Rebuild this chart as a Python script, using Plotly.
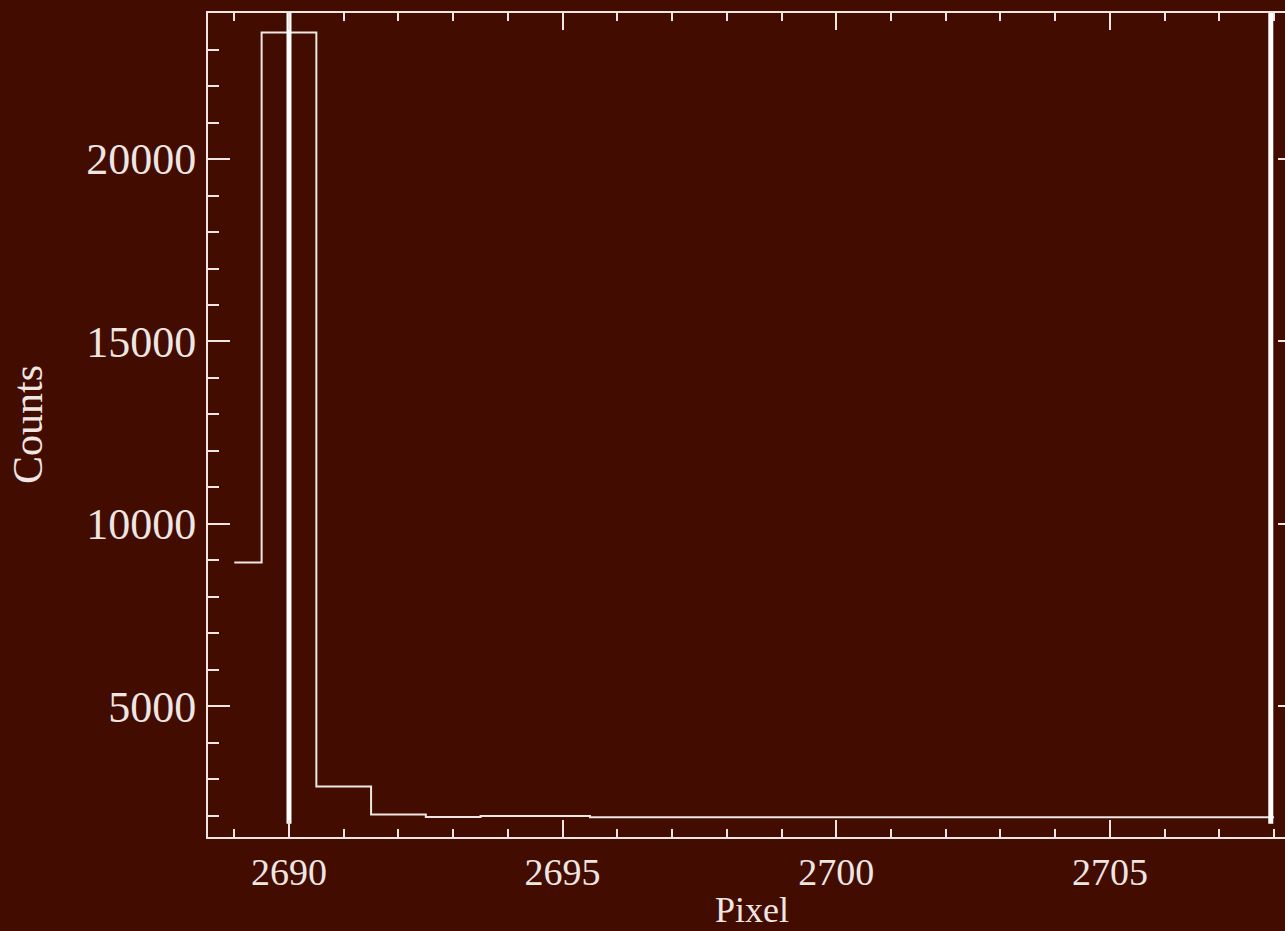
import plotly.graph_objects as go

# Data
pixels = list(range(2689, 2709))
counts = [8940, 23470, 2800, 2030, 1965, 1990, 1990, 1958, 1958, 1956,
          1956, 1955, 1955, 1955, 1955, 1955, 1955, 1955, 1955, 1955]

marker_x = [2690.0, 2707.94]
marker_y = [1780, 24005]

x_range = [2688.52, 2708.2]
y_range = [1414, 24005]
x_ticks = [2690, 2695, 2700, 2705]
y_ticks = [5000, 10000, 15000, 20000]

BG = "#420d00"
FG = "#efe6e4"
FONT = "Liberation Serif"

fig = go.Figure()
fig.add_trace(go.Scatter(x=pixels, y=counts, mode="lines",
                         line=dict(shape="hvh", color=FG, width=2),
                         showlegend=False, hoverinfo="skip"))
for mx in marker_x:
    fig.add_trace(go.Scatter(x=[mx, mx], y=marker_y, mode="lines",
                             line=dict(color="#ffffff", width=5),
                             showlegend=False, hoverinfo="skip"))
# invisible trace to activate the right-side tick axis
fig.add_trace(go.Scatter(x=[x_range[0]], y=[y_range[0]], yaxis="y2",
                         mode="markers", marker=dict(opacity=0),
                         showlegend=False, hoverinfo="skip"))

fig.update_layout(
    width=1285, height=931,
    margin=dict(l=208, r=0, t=13, b=94),
    paper_bgcolor=BG, plot_bgcolor=BG,
    font=dict(family=FONT, color=FG),
    xaxis=dict(
        range=x_range, tickvals=x_ticks, ticktext=[str(v) for v in x_ticks],
        showgrid=False, zeroline=False,
        showline=True, linecolor=FG, linewidth=2, mirror="ticks",
        ticks="inside", ticklen=17, tickwidth=2, tickcolor=FG,
        minor=dict(dtick=1, tick0=2690, ticks="inside", ticklen=8, tickwidth=2,
                   tickcolor=FG, showgrid=False),
        tickfont=dict(family=FONT, size=38, color=FG),
        ticklabelstandoff=0,
    ),
    yaxis=dict(
        range=y_range, tickvals=y_ticks, ticktext=[str(v) for v in y_ticks],
        showgrid=False, zeroline=False,
        showline=True, linecolor=FG, linewidth=2, mirror=False,
        ticks="inside", ticklen=22, tickwidth=2, tickcolor=FG,
        minor=dict(dtick=1000, tick0=0, ticks="inside", ticklen=11, tickwidth=2,
                   tickcolor=FG, showgrid=False),
        tickfont=dict(family=FONT, size=44, color=FG),
        ticklabelstandoff=1,
    ),
    yaxis2=dict(overlaying="y", side="right", range=y_range,
                tickvals=y_ticks, showticklabels=False, showgrid=False,
                zeroline=False, showline=False, ticks="inside", ticklen=7,
                tickwidth=2, tickcolor=FG),
)
fig.add_annotation(text="Counts", xref="paper", yref="paper",
                   x=-208/1077 + 28/1077, y=0.5, xanchor="center", yanchor="middle",
                   textangle=-90, showarrow=False,
                   font=dict(family=FONT, size=42, color=FG))
fig.add_annotation(text="Pixel", xref="paper", yref="paper",
                   x=(752-208)/1077, y=-(910-837)/824, xanchor="center", yanchor="middle",
                   showarrow=False,
                   font=dict(family=FONT, size=36, color=FG))

fig.write_html("out.html")
